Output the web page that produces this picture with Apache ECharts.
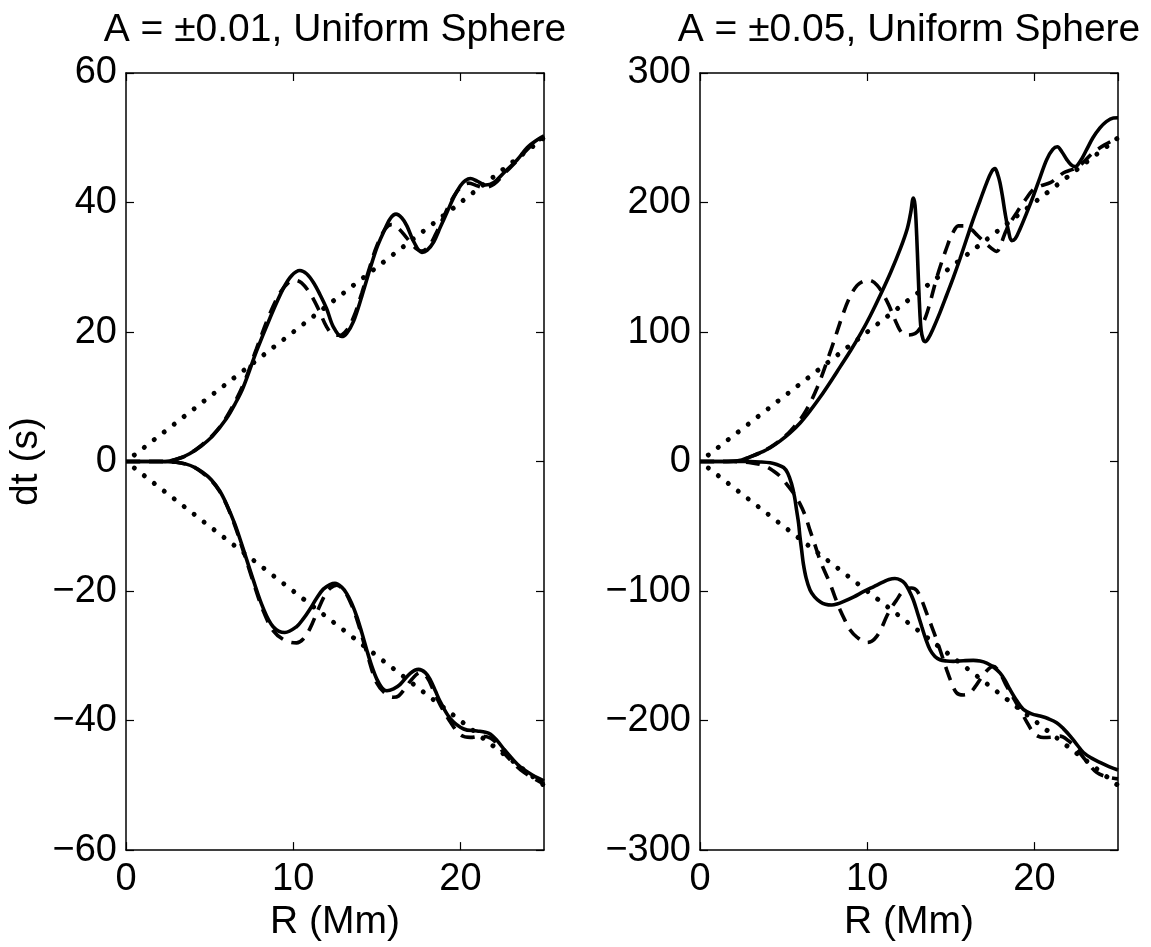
<!DOCTYPE html>
<html>
<head>
<meta charset="utf-8">
<script src="https://cdn.jsdelivr.net/npm/echarts@6/dist/echarts.min.js"></script>
<style>html,body{margin:0;padding:0;background:#fff}#c{width:1151px;height:947px}</style>
</head>
<body>
<div id="c"></div>
<script>
// ---- data ----
const titles = ['A = \u00b10.01, Uniform Sphere', 'A = \u00b10.05, Uniform Sphere'];
const xTicks = [0, 10, 20];
const leftYTicks = [-60, -40, -20, 0, 20, 40, 60];
const rightYTicks = [-300, -200, -100, 0, 100, 200, 300];

const leftUpperSolid = [[0,0],[1,0],[2,0],[2.6,0.1],[3.2,0.5],[3.8,1.2],[4.5,2.4],[5.2,4.0],[6.0,6.6],[6.5,8.8],[7.0,11.4],[7.8,17],[8.6,22.1],[9.4,26.7],[9.9,28.7],[10.4,29.5],[10.8,29],[11.2,27.7],[11.6,25.8],[12.0,23.6],[12.4,20.8],[12.9,19.3],[13.2,19.8],[13.6,21.6],[14.1,25.5],[14.6,29.8],[15.0,33],[15.4,35.4],[15.8,37.5],[16.15,38.2],[16.5,37.6],[16.8,36.4],[17.2,34],[17.7,32.3],[18.0,32.6],[18.4,33.9],[18.8,36.2],[19.2,38.5],[19.6,40.8],[20.0,42.6],[20.3,43.4],[20.6,43.7],[21.0,43.3],[21.5,42.7],[22.0,43.1],[22.6,44.6],[23.4,46.6],[24.0,48.5],[24.6,49.7],[25,50.3]];
const leftUpperDashed = [[0,0],[1,0],[2,0],[2.6,0.1],[3.2,0.5],[3.8,1.2],[4.5,2.5],[5.2,4.1],[6.0,6.8],[7.0,11.8],[7.8,17.4],[8.6,22.8],[9.2,26.0],[9.7,27.6],[10.1,28.0],[10.5,27.6],[11.0,26.0],[11.5,23.6],[12.0,20.8],[12.4,19.6],[12.8,19.5],[13.2,20.3],[13.6,22.2],[14.1,26.0],[14.6,30.2],[15.0,33.3],[15.5,35.9],[15.9,36.6],[16.3,36.0],[16.8,34.5],[17.3,33.0],[17.7,32.5],[18.1,33.2],[18.5,35.0],[19.0,37.8],[19.5,40.5],[20.0,42.3],[20.5,43.0],[21.0,42.6],[21.4,42.3],[22.0,42.8],[22.6,44.4],[23.4,46.5],[24.0,48.2],[24.6,49.5],[25,50]];
const leftLowerSolid = [[0,0],[1,0],[2,0],[3,-0.1],[3.6,-0.4],[4.1,-0.9],[4.6,-1.7],[5.1,-2.8],[5.6,-4.5],[6.0,-6.5],[6.5,-9.6],[7.0,-13.4],[7.6,-18.2],[8.2,-22.6],[8.8,-25.5],[9.5,-26.4],[10.2,-25.5],[10.6,-24.3],[11.0,-22.8],[11.4,-21.1],[11.8,-19.7],[12.2,-19.0],[12.5,-18.8],[12.9,-19.4],[13.2,-20.4],[13.5,-21.9],[13.8,-23.9],[14.1,-26.4],[14.4,-29.1],[14.7,-31.6],[15.0,-33.6],[15.3,-34.9],[15.6,-35.4],[16.0,-35.1],[16.4,-34.4],[17.0,-32.7],[17.5,-32.1],[17.9,-32.6],[18.2,-33.7],[18.5,-35.4],[18.8,-37.1],[19.4,-39.7],[20.2,-41.3],[21.0,-41.6],[21.5,-41.8],[21.8,-42.1],[22.2,-43.1],[22.6,-44.4],[23.1,-45.9],[23.6,-47.2],[24.3,-48.4],[25,-49.3]];
const leftLowerDashed = [[0,0],[1,0],[2,0],[3,-0.1],[3.6,-0.4],[4.1,-0.9],[4.6,-1.8],[5.1,-2.9],[5.6,-4.6],[6.0,-6.6],[6.5,-9.8],[7.0,-13.7],[7.6,-18.5],[8.2,-23.0],[8.8,-26.1],[9.5,-27.6],[10.2,-28.0],[10.6,-27.4],[11.0,-25.8],[11.5,-22.8],[11.9,-20.6],[12.2,-19.6],[12.6,-19.1],[13.0,-19.8],[13.4,-21.6],[13.8,-24.3],[14.4,-29.5],[15.0,-34.2],[15.6,-36.0],[16.0,-36.4],[16.3,-36.2],[16.7,-35.0],[17.1,-33.6],[17.6,-32.6],[18.0,-33.3],[18.4,-35.4],[18.8,-37.6],[19.4,-40.2],[20.0,-42.2],[20.6,-42.6],[21.2,-42.4],[21.8,-42.7],[22.2,-43.6],[22.6,-45.0],[23.1,-46.4],[23.6,-47.6],[24.3,-48.8],[25,-49.8]];
const leftUpperDotted = [[0.5,1],[25,50]];
const leftLowerDotted = [[0.5,-1],[25,-50]];

const rightUpperSolid = [[0,0],[1,0],[2,0.2],[2.5,1.2],[3.0,3.6],[3.6,6.8],[4.2,10.7],[4.8,16],[5.4,22.3],[6.0,30],[6.6,39.5],[7.2,50],[7.8,61.5],[8.4,73.5],[9.0,85.5],[9.6,98.5],[10.2,113],[10.8,129],[11.4,146],[12.0,165],[12.4,180],[12.6,192],[12.76,203.5],[12.86,198],[12.96,174.5],[13.04,148],[13.12,123],[13.22,102],[13.35,94],[13.46,92.6],[13.65,95],[13.95,102.8],[14.35,115],[14.75,128.4],[15.15,142],[15.55,156.6],[15.95,172],[16.35,187.3],[16.75,201.5],[17.15,215.4],[17.45,224],[17.64,226.2],[17.8,222],[17.94,215.4],[18.1,204],[18.24,192.4],[18.45,178],[18.64,170.6],[18.85,172],[19.14,179.6],[19.54,192],[19.94,205.2],[20.34,219.5],[20.74,233.3],[21.1,241],[21.37,243],[21.65,239],[21.93,233.3],[22.2,229],[22.43,227.7],[22.75,232],[23.13,241],[23.5,250],[23.92,257.6],[24.3,262.5],[24.72,265.3],[25,265.5]];
const rightUpperDashed = [[0,0],[1,0],[2,0.2],[2.5,1.2],[3.0,3.6],[3.6,7],[4.2,11],[4.8,16.5],[5.4,23.5],[6.2,36.3],[7.0,56.8],[7.8,85],[8.6,115.6],[9.0,128],[9.4,136],[9.8,139.5],[10.1,140],[10.6,136],[11.2,123.3],[11.8,105.4],[12.1,99],[12.4,97.7],[12.7,98],[13.0,100.3],[13.3,106],[13.6,115.6],[14.2,143.7],[14.8,166.8],[15.1,176],[15.45,182],[15.8,182],[16.2,179.6],[16.6,174.5],[17.0,169.4],[17.4,165],[17.75,162.2],[18.0,168],[18.35,179.6],[18.95,192.4],[19.4,201],[19.95,210.3],[20.4,213],[20.95,215.4],[21.35,219],[21.75,223],[22.15,225],[22.55,227],[23.0,232],[23.5,238.4],[24.2,244.5],[25,250]];
const rightLowerSolid = [[0,0],[1,0],[2,0],[3,0],[3.6,-0.3],[4.2,-1],[4.6,-2.3],[5.0,-4.6],[5.25,-9],[5.48,-17.4],[5.65,-27],[5.78,-37.8],[5.9,-48],[5.98,-58.3],[6.08,-68.5],[6.18,-78.8],[6.35,-90],[6.58,-99.2],[6.85,-104.5],[7.18,-108.2],[7.5,-110.2],[7.88,-110.8],[8.2,-110],[8.57,-108.2],[9.2,-104.5],[9.77,-100.5],[10.4,-96.5],[10.97,-92.9],[11.3,-91],[11.66,-90.3],[12.0,-91.5],[12.26,-94.2],[12.5,-99.5],[12.76,-106.9],[13.0,-116.5],[13.26,-127.4],[13.5,-137],[13.76,-145.3],[14.05,-150.5],[14.35,-153],[14.75,-154],[15.15,-154.3],[15.75,-153.8],[16.35,-153.5],[16.75,-154],[17.15,-155.6],[17.55,-158.6],[17.94,-163.2],[18.24,-168.8],[18.54,-176],[18.94,-184.5],[19.34,-191.3],[19.84,-194.8],[20.34,-196.5],[20.84,-198.6],[21.33,-201.6],[21.73,-206.2],[22.13,-211.8],[22.53,-218.3],[22.93,-224.6],[23.42,-229],[23.92,-232.3],[24.46,-235.5],[25,-238.2]];
const rightLowerDashed = [[0,0],[1,0],[2,0],[2.6,-0.3],[3.1,-1],[3.58,-2.2],[4.0,-4.2],[4.38,-7.2],[4.8,-11.5],[5.18,-17.4],[5.6,-24.5],[5.98,-32.7],[6.3,-42],[6.58,-53.2],[6.88,-64.5],[7.18,-76.2],[7.48,-85.5],[7.78,-94.2],[8.08,-104.8],[8.38,-114.6],[8.68,-122.8],[8.97,-129.9],[9.4,-135.8],[9.97,-139.7],[10.27,-138.8],[10.57,-135],[10.86,-128.5],[11.16,-119.7],[11.46,-112.5],[11.76,-106.9],[12.06,-101.2],[12.36,-98],[12.66,-97.6],[12.96,-99.5],[13.26,-107],[13.56,-117.2],[13.86,-127.4],[14.15,-137.6],[14.45,-149],[14.75,-160.6],[15.05,-171],[15.35,-178.6],[15.75,-180.2],[16.15,-178.6],[16.45,-174],[16.75,-168.3],[17.15,-161.5],[17.54,-158.1],[17.94,-163.5],[18.34,-173.4],[18.74,-182.5],[19.14,-191.3],[19.54,-201],[19.94,-209.3],[20.24,-212.2],[20.54,-213.1],[21.04,-212.8],[21.53,-212],[22.03,-215.5],[22.53,-222],[23.12,-231.5],[23.72,-240],[24.36,-243.5],[25,-245]];
const rightUpperDotted = [[0.5,5],[25,250]];
const rightLowerDotted = [[0.5,-5],[25,-250]];

// ---- chart ----
const FONT = 'Liberation Sans, Arial, Helvetica, sans-serif';
const chart = echarts.init(document.getElementById('c'), null, {renderer: 'canvas'});
const G = [{left: 126, top: 73, width: 418, height: 782}, {left: 700, top: 73, width: 418, height: 782}];
const minus = v => String(v).replace('-', '\u2212');
const lineC = {show: true, onZero: false, lineStyle: {color: '#000', width: 1.5}};
const tickC = {show: true, inside: true, length: 8, lineStyle: {color: '#000', width: 1.2}};

function xAx(gi, pos, labels) {
  return {
    type: 'value', gridIndex: gi, position: pos, min: 0, max: 25, interval: 10,
    axisLine: lineC, axisTick: tickC, splitLine: {show: false},
    axisLabel: {show: labels, showMaxLabel: false, color: '#000', fontSize: 38, fontFamily: FONT, margin: 10},
    name: labels ? 'R (Mm)' : '', nameLocation: 'middle', nameGap: 50,
    nameTextStyle: {color: '#000', fontSize: 39, fontFamily: FONT}
  };
}
function yAx(gi, pos, labels, lim, step, name) {
  return {
    type: 'value', gridIndex: gi, position: pos, min: -lim, max: lim, interval: step,
    axisLine: lineC, axisTick: tickC, splitLine: {show: false},
    axisLabel: {show: labels, color: '#000', fontSize: 38, fontFamily: FONT, margin: 9, formatter: minus},
    name: name, nameLocation: 'middle', nameGap: 80,
    nameTextStyle: {color: '#000', fontSize: 39, fontFamily: FONT}
  };
}
function ser(data, xi, kind) {
  const ls = kind === 'solid' ? {color: '#000', width: 3.6, type: 'solid'}
    : kind === 'dashed' ? {color: '#000', width: 3.6, type: [14, 9]}
    : {color: '#000', width: 5, type: [0.001, 12.6], cap: 'round'};
  return {type: 'line', xAxisIndex: xi, yAxisIndex: xi, data: data, showSymbol: false, symbol: 'none',
    smooth: kind === 'dotted' ? false : 0.35, lineStyle: ls, animation: false, silent: true};
}

chart.setOption({
  animation: false,
  backgroundColor: '#fff',
  grid: G,
  xAxis: [xAx(0, 'bottom', true), xAx(1, 'bottom', true), xAx(0, 'top', false), xAx(1, 'top', false)],
  yAxis: [yAx(0, 'left', true, 60, 20, 'dt (s)'), yAx(1, 'left', true, 300, 100, ''), yAx(0, 'right', false, 60, 20, ''), yAx(1, 'right', false, 300, 100, '')],
  graphic: [
    {type: 'text', x: 335, y: 30, style: {text: titles[0], align: 'center', verticalAlign: 'middle', fill: '#000', font: '39px ' + FONT}},
    {type: 'text', x: 909, y: 30, style: {text: titles[1], align: 'center', verticalAlign: 'middle', fill: '#000', font: '39px ' + FONT}}
  ],
  series: [
    ser(leftUpperDotted, 0, 'dotted'), ser(leftLowerDotted, 0, 'dotted'),
    ser(leftUpperDashed, 0, 'dashed'), ser(leftLowerDashed, 0, 'dashed'),
    ser(leftUpperSolid, 0, 'solid'), ser(leftLowerSolid, 0, 'solid'),
    ser(rightUpperDotted, 1, 'dotted'), ser(rightLowerDotted, 1, 'dotted'),
    ser(rightUpperDashed, 1, 'dashed'), ser(rightLowerDashed, 1, 'dashed'),
    ser(rightUpperSolid, 1, 'solid'), ser(rightLowerSolid, 1, 'solid')
  ]
});
</script>
</body>
</html>
